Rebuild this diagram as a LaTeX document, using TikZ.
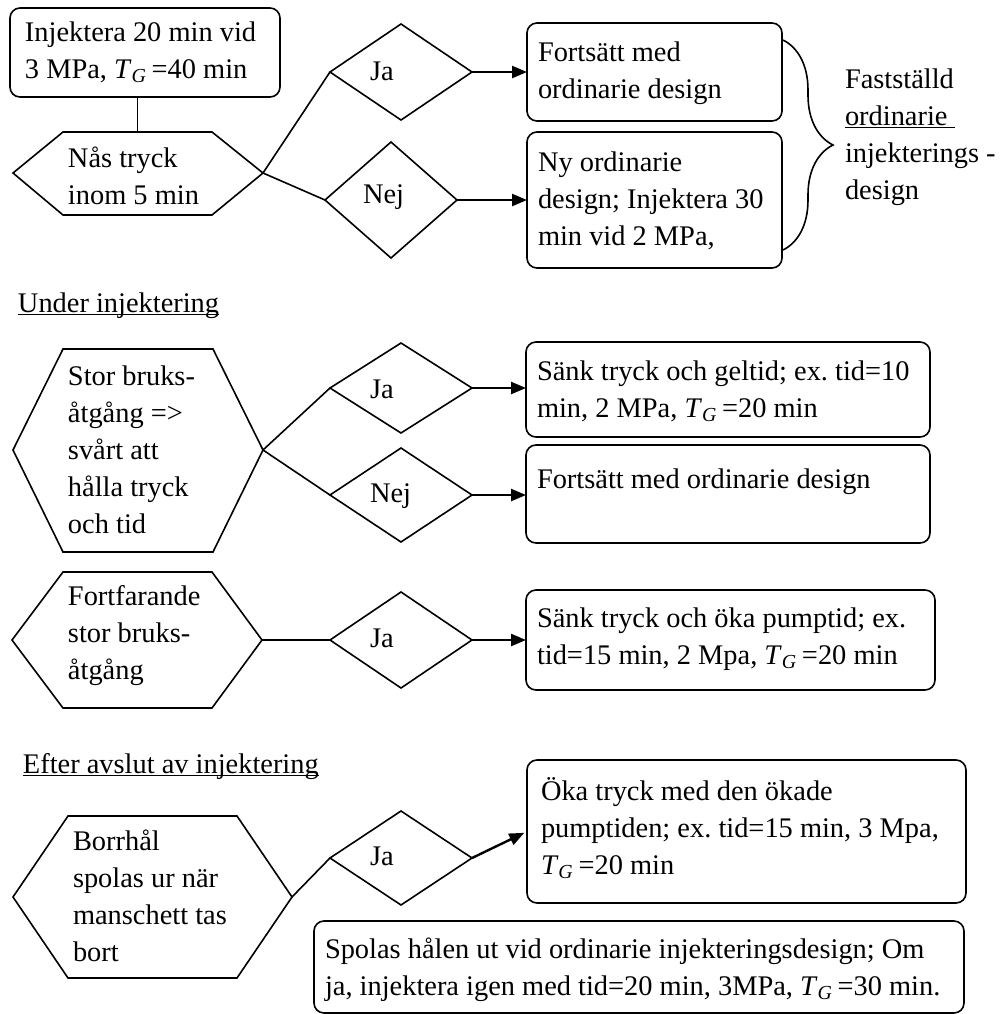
\documentclass[tikz,border=0pt]{standalone}
\usepackage{fontspec}
\setmainfont{Liberation Serif}
\usetikzlibrary{shapes.geometric,arrows.meta,decorations.pathreplacing}
\newcommand{\TG}{\textit{T}\textsubscript{\textit{G}}}
\newcommand{\myul}[1]{\setbox0=\hbox{#1}\rlap{\rule[-1.5pt]{\wd0}{0.7pt}}\box0}
\frenchspacing
\begin{document}
\begin{tikzpicture}[x=0.5pt,y=-0.5pt,
  % multi-line text: anchor at the baseline of the LAST line
  txt/.style={inner sep=0pt, outer sep=0pt, anchor=base west, align=left,
    font=\fontsize{14.2pt}{18.5pt}\selectfont},
  box/.style={draw, rounded corners=5pt, line width=0.8pt, inner sep=0pt, outer sep=0pt},
  dia/.style={draw, diamond, line width=0.8pt, inner sep=0pt, outer sep=0pt},
  hexa/.style={draw, line width=0.8pt, line join=miter},
  conn/.style={line width=0.8pt},
  arr/.style={line width=1.2pt, -{Triangle[length=7.5pt,width=6pt]}},
  brc/.style={line width=0.8pt, decorate, decoration={brace, amplitude=25pt}}]
\useasboundingbox (0,0) rectangle (1007,1014);

% ---------- top section ----------
\node[box, minimum width=135pt, minimum height=44.5pt] (b1) at (145,52.5) {};
\node[txt] (t1) at (25,78) {Injektera 20 min vid\\3 MPa, \TG\,=40 min};

\coordinate (h1t) at (137.5,132);
\coordinate (h1r) at (263,173);
\draw[hexa] (13,173) -- (63,132) -- (212,132) -- (h1r) -- (212,215) -- (63,215) -- cycle;
\node[txt] (t2) at (68,204) {Nås tryck\\inom 5 min};
\draw[conn] (h1t) -- (h1t |- b1.south);

\node[dia, minimum width=71pt, minimum height=48pt] (d1) at (401,72) {};
\node[txt] (tj1) at (370,80) {Ja};
\node[dia, minimum width=66pt, minimum height=58pt] (d2) at (391,200) {};
\node[txt] (tn1) at (363,203) {Nej};
\draw[conn] (h1r) -- (d1.west);
\draw[conn] (h1r) -- (d2.west);

\node[box, minimum width=127.5pt, minimum height=49pt] (b2) at (654.5,72) {};
\node[txt] (t3) at (538,98) {Fortsätt med\\ordinarie design};
\node[box, minimum width=127.5pt, minimum height=68pt] (b3) at (654.5,200) {};
\node[txt] (t4) at (538,245) {Ny ordinarie\\design; Injektera 30\\min vid 2 MPa,};
\draw[arr] (d1.east) -- (d1.east -| b2.west);
\draw[arr] (d2.east) -- (d2.east -| b3.west);

\coordinate (brt) at (783,40);
\coordinate (brb) at (783,250);
\draw[brc] (brt) -- (brb);
\node[txt] (t5) at (845,199) {Fastställd\\\myul{ordinarie\ }\\injekterings -\\design};

% ---------- under injektering ----------
\node[txt] (t6) at (18,312) {\myul{Under injektering}};

\coordinate (h2r) at (263,450);
\draw[hexa] (13,450) -- (63,349) -- (213,349) -- (h2r) -- (213,552) -- (63,552) -- cycle;
\node[txt] (t7) at (68,533) {Stor bruks-\\åtgång =>\\svårt att\\hålla tryck\\och tid};

\node[dia, minimum width=71pt, minimum height=45pt] (d3) at (401,388) {};
\node[txt] (tj2) at (370,398) {Ja};
\node[dia, minimum width=71pt, minimum height=47pt] (d4) at (401,495) {};
\node[txt] (tn2) at (370,502) {Nej};
\draw[conn] (h2r) -- (d3.west);
\draw[conn] (h2r) -- (d4.west);

\node[box, minimum width=202pt, minimum height=47.5pt] (b4) at (728,389.5) {};
\node[txt] (t8) at (537,417) {Sänk tryck och geltid; ex. tid=10\\min, 2 MPa, \TG\,=20 min};
\node[box, minimum width=202pt, minimum height=49pt] (b5) at (728,494) {};
\node[txt] (t9) at (537,488) {Fortsätt med ordinarie design};
\draw[arr] (d3.east) -- (d3.east -| b4.west);
\draw[arr] (d4.east) -- (d4.east -| b5.west);

\coordinate (h3r) at (262,640);
\draw[hexa] (12,640) -- (63,572) -- (212,572) -- (h3r) -- (212,708) -- (63,708) -- cycle;
\node[txt] (t10) at (68,679) {Fortfarande\\stor bruks-\\åtgång};

\node[dia, minimum width=71pt, minimum height=48pt] (d5) at (401,640) {};
\node[txt] (tj3) at (370,647) {Ja};
\draw[conn] (h3r) -- (d5.west);

\node[box, minimum width=204.5pt, minimum height=50pt] (b6) at (730.5,640) {};
\node[txt] (t11) at (537,664) {Sänk tryck och öka pumptid; ex.\\tid=15 min, 2 Mpa, \TG\,=20 min};
\draw[arr] (d5.east) -- (d5.east -| b6.west);

% ---------- efter avslut ----------
\node[txt] (t12) at (23,773) {\myul{Efter avslut av injektering}};

\coordinate (h4r) at (292,897);
\draw[hexa] (13,897) -- (68,816) -- (237,816) -- (h4r) -- (237,978) -- (68,978) -- cycle;
\node[txt] (t13) at (73,961) {Borrhål\\spolas ur när\\manschett tas\\bort};

\node[dia, minimum width=71pt, minimum height=47pt] (d6) at (401,858) {};
\node[txt] (tj4) at (370,865) {Ja};
\draw[conn] (h4r) -- (d6.west);

\node[box, minimum width=219.5pt, minimum height=71.5pt] (b7) at (746.5,831.5) {};
\node[txt] (t14) at (541,874) {Öka tryck med den ökade\\pumptiden; ex. tid=15 min, 3 Mpa,\\\TG\,=20 min};
\draw[arr, shorten >=1.5pt] (d6.east) -- (b7.west);

\node[box, minimum width=325pt, minimum height=46pt] (b8) at (639,967) {};
\node[txt] (t15) at (325,995) {Spolas hålen ut vid ordinarie injekteringsdesign; Om\\ja, injektera igen med tid=20 min, 3MPa, \TG\,=30 min.};
\end{tikzpicture}
\end{document}
